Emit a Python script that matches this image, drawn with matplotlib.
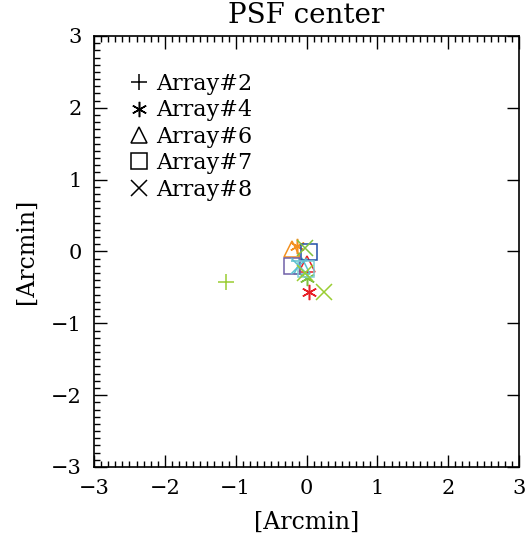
import matplotlib.pyplot as plt
from matplotlib.lines import Line2D
from matplotlib.ticker import MultipleLocator

# PSF centre offsets in arcmin, grouped by array (marker) with one colour per point
plus_x = [-1.13, -0.10]
plus_y = [-0.42, -0.13]
plus_c = ["#9acd32", "#5bc0d0"]

star_x = [-0.13, 0.00, 0.03]
star_y = [0.07, -0.37, -0.56]
star_c = ["#f39020", "#80c040", "#e82028"]

tri_x = [-0.20, 0.00, -0.07]
tri_y = [0.03, -0.18, -0.20]
tri_c = ["#f39020", "#e82028", "#5bc0d0"]

sq_x = [0.04, -0.20, -0.01]
sq_y = [-0.01, -0.20, -0.24]
sq_c = ["#2050a8", "#7060a8", "#80d0d8"]

x_x = [-0.02, -0.10, -0.02, 0.24]
x_y = [0.05, -0.20, -0.30, -0.56]
x_c = ["#80c040", "#5bc0d0", "#9acd32", "#9acd32"]

labels = ["Array#2", "Array#4", "Array#6", "Array#7", "Array#8"]

plt.rcParams["font.family"] = ["DejaVu Serif"]

fig = plt.figure(figsize=(5.3, 5.42), dpi=100)
ax = fig.add_axes([0.1774, 0.1384, 0.8019, 0.7952])

ms = 11
for xs, ys, cs, m in [(plus_x, plus_y, plus_c, "+"),
                      (star_x, star_y, star_c, (6, 2, 0)),
                      (tri_x, tri_y, tri_c, "^"),
                      (sq_x, sq_y, sq_c, "s"),
                      (x_x, x_y, x_c, "x")]:
    for x, y, c in zip(xs, ys, cs):
        ax.plot(x, y, marker=m, ms=ms, mfc="none", mec=c, mew=1.1, ls="none")

ax.set_xlim(-3, 3)
ax.set_ylim(-3, 3)
ax.xaxis.set_major_locator(MultipleLocator(1))
ax.yaxis.set_major_locator(MultipleLocator(1))
ax.xaxis.set_minor_locator(MultipleLocator(0.1))
ax.yaxis.set_minor_locator(MultipleLocator(0.1))
ax.tick_params(which="both", direction="in", top=True, right=True, labelsize=15, width=1)
ax.tick_params(which="major", length=9, pad=9)
ax.tick_params(which="minor", length=4, right=False)
for s in ax.spines.values():
    s.set_linewidth(1.2)

ax.set_title("PSF center", fontsize=20, pad=9)
ax.set_xlabel("[Arcmin]", fontsize=17, labelpad=9)
ax.set_ylabel("[Arcmin]", fontsize=17, labelpad=9)

handles = [Line2D([], [], marker=m, ms=11, mfc="none", mec="black", mew=1.1, ls="none")
           for m in ["+", (6, 2, 0), "^", "s", "x"]]
ax.legend(handles, labels, loc="upper left", bbox_to_anchor=(0.065, 0.935), frameon=False,
          fontsize=16, handlelength=0.8, handletextpad=0.35, labelspacing=0.2,
          borderaxespad=0)

fig.savefig("out.png", dpi=100)
